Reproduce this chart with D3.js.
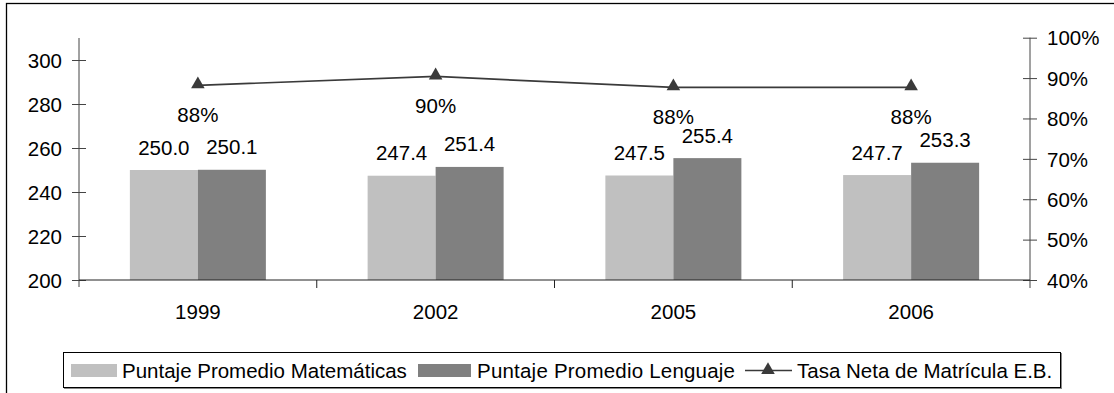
<!DOCTYPE html>
<html>
<head>
<meta charset="utf-8">
<script src="https://cdn.jsdelivr.net/npm/d3@7"></script>
<style>
  html, body { margin: 0; padding: 0; background: #fff; }
  svg { display: block; font-family: "Liberation Sans", Arial, sans-serif; }
</style>
</head>
<body>
<svg id="chart" width="1114" height="393"></svg>
<script>
// Data
const years = ["1999", "2002", "2005", "2006"];
const mathScores = [250.0, 247.4, 247.5, 247.7];
const langScores = [250.1, 251.4, 255.4, 253.3];
const enrolmentRate = [0.882, 0.904, 0.877, 0.877];
const leftTicks = [200, 220, 240, 260, 280, 300];
const rightTicks = [0.4, 0.5, 0.6, 0.7, 0.8, 0.9, 1.0];
const seriesNames = ["Puntaje Promedio Matemáticas", "Puntaje Promedio Lenguaje", "Tasa Neta de Matrícula E.B."];

const colors = { math: "#c0c0c0", lang: "#808080", line: "#3a3a3a", axis: "#444" };
const fontSize = 20.5;
const fontFamily = "Liberation Sans, Arial, sans-serif";

const svg = d3.select("#chart");

// Outer frame
svg.append("rect")
  .attr("x", 6.5).attr("y", 3.5)
  .attr("width", 1120).attr("height", 400)
  .attr("fill", "none").attr("stroke", "#000").attr("stroke-width", 1.3);

const plot = { left: 79, right: 1030, top: 38, bottom: 280 };

const x = d3.scaleBand().domain(years).range([plot.left, plot.right]);
const yL = d3.scaleLinear().domain([200, 310]).range([plot.bottom, plot.top]);
const yR = d3.scaleLinear().domain([0.4, 1.0]).range([plot.bottom, 37.7]);
const barW = 68;

// Bars with value labels
const g = svg.append("g");
years.forEach((yr, i) => {
  const c = x(yr) + x.bandwidth() / 2;
  g.append("rect").attr("x", c - barW).attr("y", yL(mathScores[i]))
    .attr("width", barW).attr("height", yL(200) - yL(mathScores[i]))
    .attr("fill", colors.math);
  g.append("rect").attr("x", c).attr("y", yL(langScores[i]))
    .attr("width", barW).attr("height", yL(200) - yL(langScores[i]))
    .attr("fill", colors.lang);
  g.append("text").attr("x", c - barW / 2).attr("y", yL(mathScores[i]) - 15.5)
    .attr("text-anchor", "middle").attr("font-size", fontSize).attr("fill", "#000")
    .text(d3.format(".1f")(mathScores[i]));
  g.append("text").attr("x", c + barW / 2).attr("y", yL(langScores[i]) - 15.5)
    .attr("text-anchor", "middle").attr("font-size", fontSize).attr("fill", "#000")
    .text(d3.format(".1f")(langScores[i]));
});

// Left axis (scores)
const leftAxis = svg.append("g").attr("transform", `translate(${plot.left},0)`)
  .call(d3.axisLeft(yL).tickValues(leftTicks).tickSize(7).tickPadding(10).tickFormat(d3.format("d")));
leftAxis.select(".domain").remove();
leftAxis.selectAll(".tick line").attr("x1", 7).attr("stroke", colors.axis);
leftAxis.selectAll(".tick text").attr("font-size", fontSize).attr("font-family", fontFamily).attr("fill", "#000").attr("dy", "0.35em");
leftAxis.append("line").attr("y1", plot.top).attr("y2", plot.bottom + 7).attr("stroke", colors.axis);

// Right axis (enrolment rate)
const rightAxis = svg.append("g").attr("transform", `translate(${plot.right},0)`)
  .call(d3.axisRight(yR).tickValues(rightTicks).tickSize(7).tickPadding(10).tickFormat(d3.format(".0%")));
rightAxis.select(".domain").remove();
rightAxis.selectAll(".tick line").attr("x1", -7).attr("stroke", colors.axis);
rightAxis.selectAll(".tick text").attr("font-size", fontSize).attr("font-family", fontFamily).attr("fill", "#000").attr("dy", "0.35em");
rightAxis.append("line").attr("y1", 37.7).attr("y2", plot.bottom + 8).attr("stroke", colors.axis);

// Category axis
const bottomAxis = svg.append("g").attr("transform", `translate(0,${plot.bottom})`)
  .call(d3.axisBottom(x).tickSize(0).tickPadding(24));
bottomAxis.select(".domain").remove();
bottomAxis.selectAll(".tick text").attr("font-size", fontSize).attr("font-family", fontFamily).attr("fill", "#000");
bottomAxis.append("line").attr("x1", plot.left).attr("x2", plot.right).attr("stroke", "#222");
years.slice(1).forEach(yr => {
  bottomAxis.append("line").attr("x1", x(yr)).attr("x2", x(yr)).attr("y1", 0).attr("y2", 8).attr("stroke", "#222");
});

// Enrolment rate line with triangle markers
const cx = yr => x(yr) + x.bandwidth() / 2;
const line = d3.line().x((d, i) => cx(years[i])).y(d => yR(d));
svg.append("path").datum(enrolmentRate).attr("d", line)
  .attr("fill", "none").attr("stroke", colors.line).attr("stroke-width", 1.7);
const tri = d3.symbol().type(d3.symbolTriangle).size(80);
enrolmentRate.forEach((v, i) => {
  svg.append("path").attr("d", tri)
    .attr("transform", `translate(${cx(years[i])},${yR(v) - 1})`)
    .attr("fill", colors.line);
  svg.append("text").attr("x", cx(years[i])).attr("y", yR(v) + 37)
    .attr("text-anchor", "middle").attr("font-size", fontSize).attr("fill", "#000")
    .text(d3.format(".0%")(v));
});

// Legend
const legend = svg.append("g");
legend.append("rect").attr("x", 63.5).attr("y", 352.5).attr("width", 997).attr("height", 35)
  .attr("fill", "#fff").attr("stroke", "#000").attr("stroke-width", 1);
legend.append("line").attr("x1", 64).attr("x2", 1061.5).attr("y1", 388.5).attr("y2", 388.5).attr("stroke", "#888").attr("stroke-width", 1);
legend.append("line").attr("x1", 1061.5).attr("x2", 1061.5).attr("y1", 353).attr("y2", 389).attr("stroke", "#888").attr("stroke-width", 1);
const ly = 370.5;
legend.append("rect").attr("x", 71).attr("y", 364).attr("width", 46).attr("height", 13).attr("fill", colors.math);
legend.append("text").attr("x", 122).attr("y", ly).attr("dy", "0.35em").attr("font-size", fontSize).text(seriesNames[0]);
legend.append("rect").attr("x", 418).attr("y", 364).attr("width", 53).attr("height", 13).attr("fill", colors.lang);
legend.append("text").attr("x", 477).attr("y", ly).attr("dy", "0.35em").attr("font-size", fontSize)
  .attr("textLength", 258).attr("lengthAdjust", "spacing").text(seriesNames[1]);
legend.append("line").attr("x1", 745).attr("x2", 792).attr("y1", ly).attr("y2", ly).attr("stroke", colors.line).attr("stroke-width", 1.6);
legend.append("path").attr("d", tri).attr("transform", `translate(768,${ly - 0.5})`).attr("fill", colors.line);
legend.append("text").attr("x", 797).attr("y", ly).attr("dy", "0.35em").attr("font-size", fontSize).text(seriesNames[2]);
</script>
</body>
</html>
